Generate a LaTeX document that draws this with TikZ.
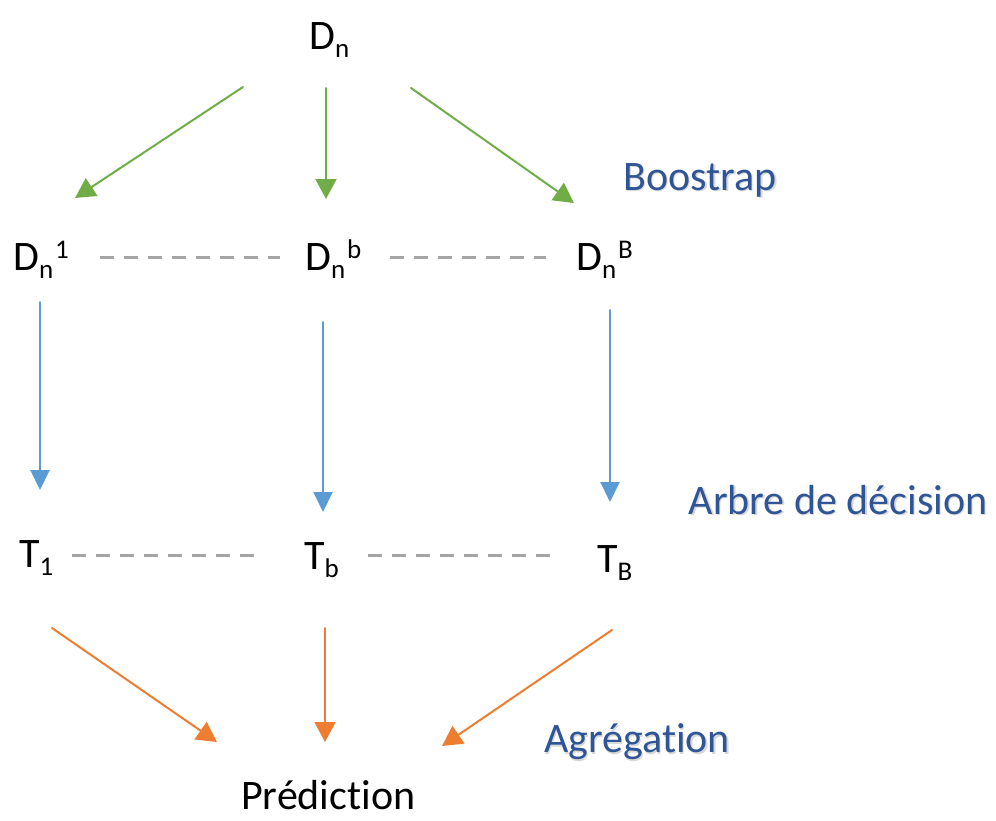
\documentclass[tikz,border=0pt]{standalone}
\usepackage{fontspec}
\setmainfont{Carlito}[Ligatures=CommonOff]
\usetikzlibrary{arrows.meta}
\newcommand{\lowidx}[1]{\raisebox{-8pt}{\fontsize{27}{30}\selectfont #1}}
\newcommand{\highidx}[1]{\kern2pt\raisebox{12pt}{\fontsize{27}{30}\selectfont #1}}

\begin{document}
\begin{tikzpicture}[x=1pt,y=-1pt]
\tikzset{
  setnode/.style={inner sep=0pt,anchor=base west,font=\fontsize{42}{48}\selectfont,text=black},
  steplabel/.style={inner sep=0pt,font=\fontsize{42}{48}\selectfont,text=labelblue},
  steplabelshadow/.style={inner sep=0pt,font=\fontsize{42}{48}\selectfont,text=black!30,opacity=0.5},
  flowedge/.style={line width=2pt,line cap=round},
  greenarrow/.style={flowedge,draw=bootgreen,-{Triangle[length=20pt,width=21pt]}},
  bluearrow/.style={flowedge,draw=treeblue,-{Triangle[length=20pt,width=19pt]}},
  orangearrow/.style={flowedge,draw=aggorange,-{Triangle[length=20pt,width=21pt]}},
  ellipsis/.style={draw=dashgray,line width=3pt,dash pattern=on 14pt off 10pt}
}
\definecolor{bootgreen}{RGB}{112,173,71}
\definecolor{treeblue}{RGB}{91,155,213}
\definecolor{aggorange}{RGB}{237,125,49}
\definecolor{dashgray}{RGB}{165,165,165}
\definecolor{labelblue}{RGB}{47,85,151}
\useasboundingbox (0,0) rectangle (996,820);
% data sets
\node[setnode] (n_Dn) at (309,49) {D\lowidx{n}};
\node[setnode] (n_D1) at (13,270) {D\lowidx{n}\highidx{1}};
\node[setnode] (n_Db) at (305,270) {D\lowidx{n}\highidx{b}};
\node[setnode] (n_DB) at (576,270) {D\lowidx{n}\highidx{B}};
% trees
\node[setnode] (n_T1) at (19,567) {T\lowidx{1}};
\node[setnode] (n_Tb) at (304,569) {T\lowidx{b}};
\node[setnode] (n_TB) at (597,572) {T\lowidx{B}};
\node[setnode] (n_P) at (241,809) {Prédiction};
% step labels
\node[steplabelshadow] (l_boot_s) at (701.5,181.5) {Boostrap};
\node[steplabel] (l_boot) at (700,180) {Boostrap};
\node[steplabelshadow] (l_tree_s) at (839.5,501.5) {Arbre de décision};
\node[steplabel] (l_tree) at (838,500) {Arbre de décision};
\node[steplabelshadow] (l_agg_s) at (638.5,743.5) {Agrégation};
\node[steplabel] (l_agg) at (637,742) {Agrégation};
% arrow ends
\coordinate (g1s) at (243,87);  \coordinate (g1e) at (75,198);
\coordinate (g2s) at (326,88);  \coordinate (g2e) at (326,199);
\coordinate (g3s) at (411,88);  \coordinate (g3e) at (574,203);
\coordinate (b1s) at (40,302);  \coordinate (b1e) at (40,490);
\coordinate (b2s) at (323,322); \coordinate (b2e) at (323,512);
\coordinate (b3s) at (610,310); \coordinate (b3e) at (610,502);
\coordinate (o1s) at (52,628);  \coordinate (o1e) at (217,742);
\coordinate (o2s) at (325,628); \coordinate (o2e) at (325,742);
\coordinate (o3s) at (612,630); \coordinate (o3e) at (442,746);
\draw[greenarrow] (g1s) -- (g1e);
\draw[greenarrow] (g2s) -- (g2e);
\draw[greenarrow] (g3s) -- (g3e);
\draw[bluearrow] (b1s) -- (b1e);
\draw[bluearrow] (b2s) -- (b2e);
\draw[bluearrow] (b3s) -- (b3e);
\draw[orangearrow] (o1s) -- (o1e);
\draw[orangearrow] (o2s) -- (o2e);
\draw[orangearrow] (o3s) -- (o3e);
% dashes between sets
\coordinate (d1s) at (100,257); \coordinate (d1e) at (280,257);
\coordinate (d2s) at (390,257); \coordinate (d2e) at (546,257);
\coordinate (d3s) at (72,555);  \coordinate (d3e) at (254,555);
\coordinate (d4s) at (368,555); \coordinate (d4e) at (552,555);
\draw[ellipsis] (d1s) -- (d1e);
\draw[ellipsis] (d2s) -- (d2e);
\draw[ellipsis] (d3s) -- (d3e);
\draw[ellipsis] (d4s) -- (d4e);
\end{tikzpicture}
\end{document}
